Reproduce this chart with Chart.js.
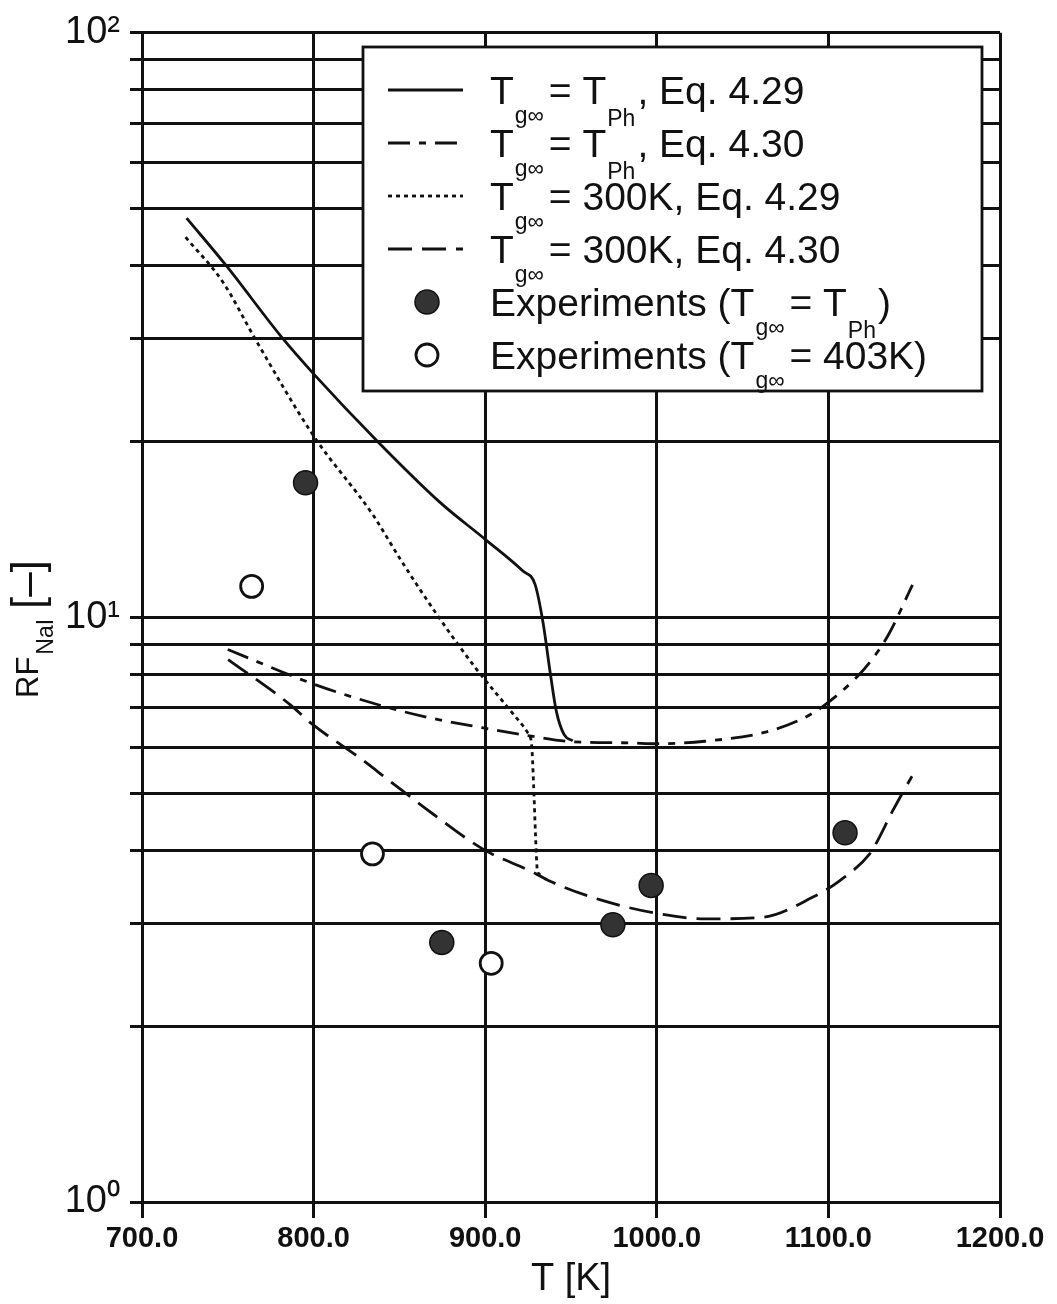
<!DOCTYPE html>
<html>
<head>
<meta charset="utf-8">
<title>RF NaI vs T</title>
<script src="https://cdn.jsdelivr.net/npm/chart.js@4.4.1/dist/chart.umd.min.js"></script>
<style>
  html, body { margin: 0; padding: 0; background: #fff; }
  #chart { display: block; }
</style>
</head>
<body>
<canvas id="chart" width="1057" height="1304"></canvas>
<script>
// Tg∞ = TPh, Eq. 4.29 (solid)
const solidT  = [726, 749, 782, 800, 838, 874, 900, 922, 929, 933.7, 938, 941.5, 946, 951];
const solidRF = [48.2, 40, 30, 26.1, 19.9, 15.7, 13.6, 12.0, 11.4, 9.8, 8.0, 6.9, 6.3, 6.15];

// Tg∞ = TPh, Eq. 4.30 (dash-dot)
const dashDotT  = [750, 800, 842, 868, 899, 926, 950, 984, 1000, 1028, 1062, 1084, 1097, 1117, 1126, 1135, 1149];
const dashDotRF = [8.81, 7.69, 7.03, 6.73, 6.47, 6.27, 6.13, 6.1, 6.08, 6.14, 6.35, 6.69, 7.05, 7.93, 8.52, 9.34, 11.37];

// Tg∞ = 300K, Eq. 4.29 (dotted)
const dottedT  = [725.4, 747.3, 765.8, 799.7, 834.6, 850.2, 873, 895, 914.8, 924.8, 927, 928.2, 929.3, 930.4, 932.2];
const dottedRF = [44.7, 37.4, 30.0, 20.5, 14.97, 12.62, 10.0, 8.15, 6.92, 6.35, 6.08, 5.18, 4.26, 3.69, 3.63];

// Tg∞ = 300K, Eq. 4.30 (long dash)
const dashT  = [750.2, 786.1, 799.4, 826.9, 844.4, 869.6, 899, 928.2, 937.5, 968.2, 1001.6, 1028.4, 1061.8, 1090.7, 1106.3, 1124.1, 1127.5, 1137.5, 1148.7];
const dashRF = [8.47, 7.1, 6.56, 5.75, 5.25, 4.61, 4.01, 3.66, 3.54, 3.28, 3.11, 3.05, 3.07, 3.32, 3.54, 3.94, 4.09, 4.67, 5.35];

// experiments
const expPhT  = [795.3, 874.7, 974.4, 996.7, 1109.7];
const expPhRF = [17.0, 2.78, 2.98, 3.48, 4.28];
const exp403T  = [763.9, 834.3, 903.5];
const exp403RF = [11.3, 3.94, 2.56];

// axes
const xTicks = [700, 800, 900, 1000, 1100, 1200];
const yTicks = [1, 2, 3, 4, 5, 6, 7, 8, 9, 10, 20, 30, 40, 50, 60, 70, 80, 90, 100];
const yLabels = { 1: '10\u2070', 10: '10\u00B9', 100: '10\u00B2' };

// legend texts: [text, kind] with kind m = normal, s/p = subscript
const legendTexts = [
  [['T', 'm'], ['g\u221E', 's'], [' = T', 'm'], ['Ph', 'p'], [', Eq. 4.29', 'm']],
  [['T', 'm'], ['g\u221E', 's'], [' = T', 'm'], ['Ph', 'p'], [', Eq. 4.30', 'm']],
  [['T', 'm'], ['g\u221E', 's'], [' = 300K, Eq. 4.29', 'm']],
  [['T', 'm'], ['g\u221E', 's'], [' = 300K, Eq. 4.30', 'm']],
  [['Experiments (T', 'm'], ['g\u221E', 's'], [' = T', 'm'], ['Ph', 'p'], [')', 'm']],
  [['Experiments (T', 'm'], ['g\u221E', 's'], [' = 403K)', 'm']]
];

const ink = '#111';
const toPoints = (xs, ys) => xs.map((x, i) => ({ x: x, y: ys[i] }));

function lineSet(label, xs, ys, dash) {
  return {
    label: label,
    data: toPoints(xs, ys),
    showLine: true,
    borderColor: ink,
    borderWidth: 2.8,
    borderDash: dash,
    pointRadius: 0,
    fill: false,
    cubicInterpolationMode: 'monotone'
  };
}

const datasets = [
  lineSet('Tg\u221E = TPh, Eq. 4.29', solidT, solidRF, []),
  lineSet('Tg\u221E = TPh, Eq. 4.30', dashDotT, dashDotRF, [22, 9, 7, 9]),
  lineSet('Tg\u221E = 300K, Eq. 4.29', dottedT, dottedRF, [4, 4]),
  lineSet('Tg\u221E = 300K, Eq. 4.30', dashT, dashRF, [24, 10]),
  {
    label: 'Experiments (Tg\u221E = TPh)',
    data: toPoints(expPhT, expPhRF),
    showLine: false,
    pointStyle: 'circle',
    pointRadius: 12,
    backgroundColor: '#333',
    borderColor: ink,
    borderWidth: 1.5
  },
  {
    label: 'Experiments (Tg\u221E = 403K)',
    data: toPoints(exp403T, exp403RF),
    showLine: false,
    pointStyle: 'circle',
    pointRadius: 11,
    backgroundColor: '#fff',
    borderColor: ink,
    borderWidth: 2.8
  }
];

const richFonts = {
  m: { font: '39px "Liberation Sans", Arial, sans-serif', dy: 0, adv: 1 },
  s: { font: '23px "Liberation Sans", Arial, sans-serif', dy: 19, adv: -6 },
  p: { font: '23px "Liberation Sans", Arial, sans-serif', dy: 22, adv: 2 }
};

function drawRich(ctx, parts, x, y) {
  for (const [text, kind] of parts) {
    const f = richFonts[kind];
    ctx.font = f.font;
    ctx.fillText(text, x, y + f.dy);
    x += ctx.measureText(text).width + f.adv;
  }
}

// y axis title and legend box
const overlay = {
  id: 'overlay',
  afterDraw(chart) {
    const ctx = chart.ctx;
    ctx.save();
    ctx.fillStyle = ink;
    ctx.textBaseline = 'alphabetic';
    ctx.textAlign = 'left';

    // RF_NaI [-]
    ctx.save();
    ctx.translate(38, 698);
    ctx.rotate(-Math.PI / 2);
    let x = 0;
    ctx.font = '31px "Liberation Sans", Arial, sans-serif';
    ctx.fillText('RF', x, 0);
    x += ctx.measureText('RF').width + 2;
    ctx.font = '23px "Liberation Sans", Arial, sans-serif';
    ctx.fillText('NaI', x, 15);
    x += ctx.measureText('NaI').width + 10;
    ctx.font = '44px "Liberation Sans", Arial, sans-serif';
    ctx.fillText('[\u2013]', x, 4);
    ctx.restore();

    // legend
    const box = { x: 363, y: 47, w: 619, h: 344 };
    ctx.fillStyle = '#fff';
    ctx.fillRect(box.x, box.y, box.w, box.h);
    ctx.strokeStyle = ink;
    ctx.lineWidth = 2.8;
    ctx.setLineDash([]);
    ctx.strokeRect(box.x, box.y, box.w, box.h);

    chart.data.datasets.forEach((ds, i) => {
      const rowY = 90 + i * 53;
      ctx.strokeStyle = ds.borderColor;
      if (ds.showLine) {
        ctx.lineWidth = ds.borderWidth;
        ctx.setLineDash(ds.borderDash);
        ctx.beginPath();
        ctx.moveTo(388, rowY);
        ctx.lineTo(463, rowY);
        ctx.stroke();
      } else {
        ctx.setLineDash([]);
        ctx.lineWidth = ds.borderWidth;
        ctx.fillStyle = ds.backgroundColor;
        ctx.beginPath();
        ctx.arc(427, rowY, ds.pointRadius, 0, Math.PI * 2);
        ctx.fill();
        ctx.stroke();
      }
      ctx.fillStyle = ink;
      drawRich(ctx, legendTexts[i], 490, rowY + 14);
    });
    ctx.restore();
  }
};

const gridStyle = { color: ink, lineWidth: 3, drawTicks: true };

new Chart(document.getElementById('chart').getContext('2d'), {
  type: 'scatter',
  data: { datasets: datasets },
  options: {
    responsive: false,
    animation: false,
    devicePixelRatio: 1,
    layout: { padding: { top: 30, right: 57, left: 0, bottom: 0 } },
    plugins: {
      legend: { display: false },
      tooltip: { enabled: false }
    },
    scales: {
      x: {
        type: 'linear',
        min: 700,
        max: 1200,
        afterBuildTicks: s => { s.ticks = xTicks.map(v => ({ value: v })); },
        afterFit: s => { s.height = 102; },
        ticks: {
          color: ink,
          padding: 4,
          maxRotation: 0,
          font: { family: '"Liberation Sans", Arial, sans-serif', size: 29, weight: 'bold' },
          callback: v => Number(v).toFixed(1)
        },
        grid: Object.assign({ tickLength: 16 }, gridStyle),
        border: { color: ink, width: 3 },
        title: {
          display: true,
          text: 'T [K]',
          color: ink,
          padding: { top: 0, bottom: 2 },
          font: { family: '"Liberation Sans", Arial, sans-serif', size: 38 }
        }
      },
      y: {
        type: 'logarithmic',
        min: 1,
        max: 100,
        afterBuildTicks: s => { s.ticks = yTicks.map(v => ({ value: v })); },
        afterFit: s => { s.width = 142; },
        ticks: {
          color: ink,
          padding: 10,
          autoSkip: false,
          font: { family: '"Liberation Sans", Arial, sans-serif', size: 38 },
          callback: v => yLabels[v] || ''
        },
        grid: Object.assign({ tickLength: 12 }, gridStyle),
        border: { color: ink, width: 3 }
      }
    }
  },
  plugins: [overlay]
});
</script>
</body>
</html>
